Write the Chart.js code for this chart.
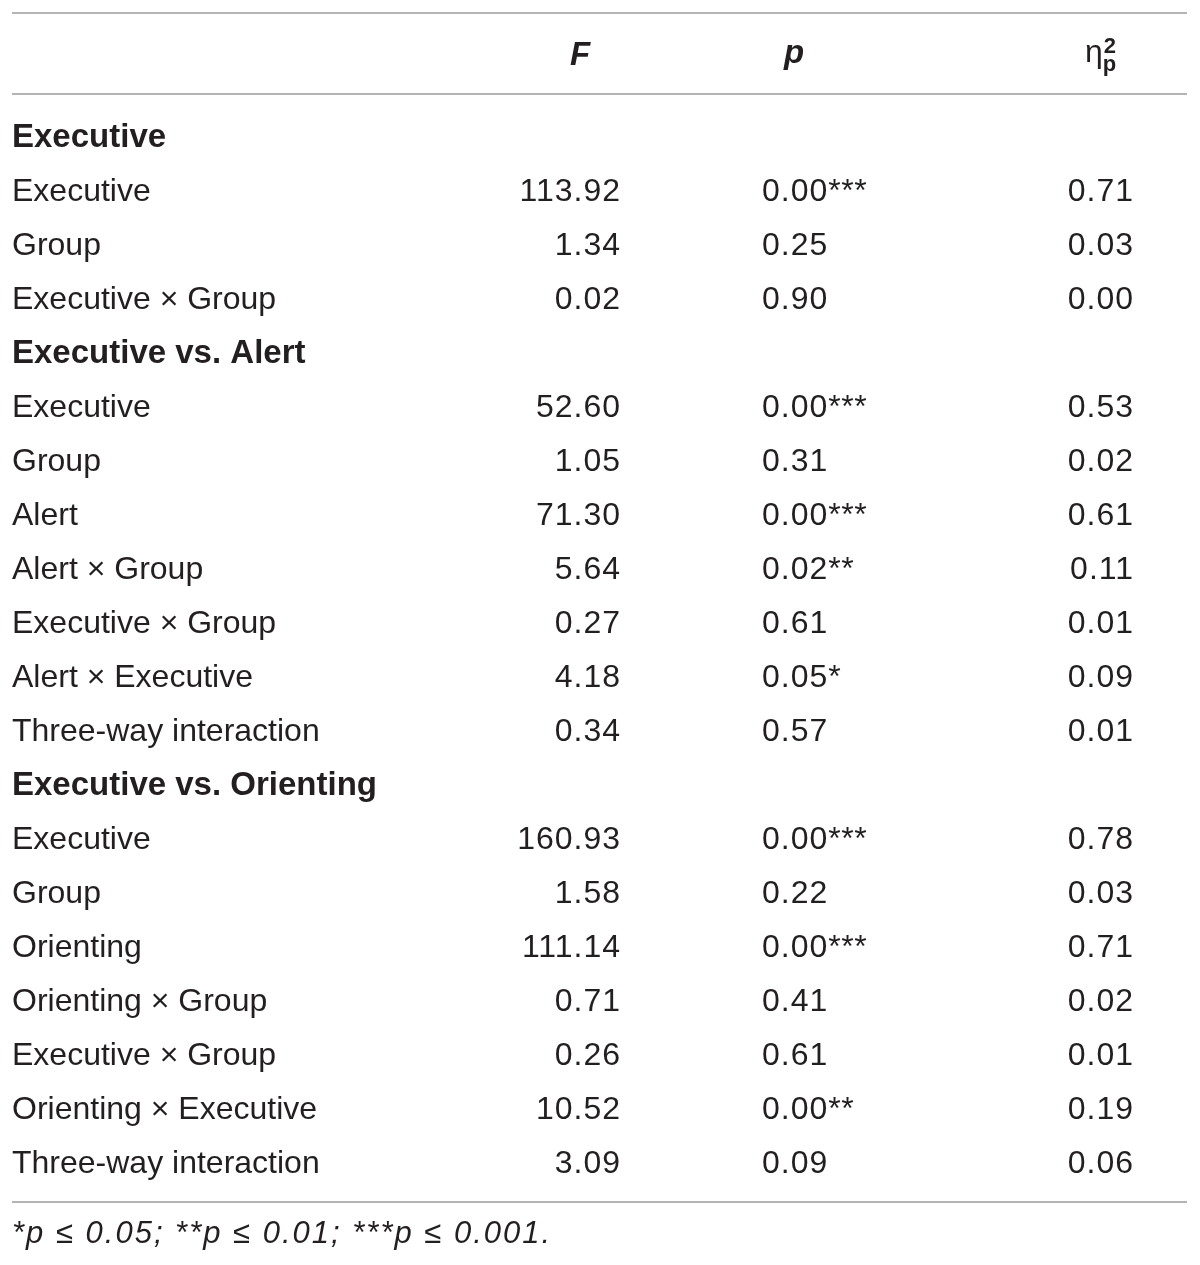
<!DOCTYPE html>
<html>
<head>
<meta charset="utf-8">
<script src="https://cdn.jsdelivr.net/npm/chart.js@4"></script>
<style>
  html, body { margin: 0; padding: 0; background: #ffffff; }
  #wrap { position: relative; width: 1200px; height: 1265px; }
</style>
</head>
<body>
<div id="wrap"><canvas id="c"></canvas></div>
<script>
// ---- data ----
const rowLabels = [
  'Executive', 'Executive', 'Group', 'Executive × Group',
  'Executive vs. Alert', 'Executive', 'Group', 'Alert', 'Alert × Group',
  'Executive × Group', 'Alert × Executive', 'Three-way interaction',
  'Executive vs. Orienting', 'Executive', 'Group', 'Orienting',
  'Orienting × Group', 'Executive × Group', 'Orienting × Executive', 'Three-way interaction'
];
const sectionRow = [true,false,false,false,true,false,false,false,false,false,false,false,true,false,false,false,false,false,false,false];
const fValues = [null,113.92,1.34,0.02,null,52.60,1.05,71.30,5.64,0.27,4.18,0.34,null,160.93,1.58,111.14,0.71,0.26,10.52,3.09];
const pValues = [null,0.00,0.25,0.90,null,0.00,0.31,0.00,0.02,0.61,0.05,0.57,null,0.00,0.22,0.00,0.41,0.61,0.00,0.09];
const pStars  = ['','***','','','','***','','***','**','','*','','','***','','***','','','**',''];
const etaValues = [null,0.71,0.03,0.00,null,0.53,0.02,0.61,0.11,0.01,0.09,0.01,null,0.78,0.03,0.71,0.02,0.01,0.19,0.06];
const columnHeaders = ['F', 'p', 'η'];
const footnote = '*p ≤ 0.05; **p ≤ 0.01; ***p ≤ 0.001.';

// ---- layout (styles, not data) ----
const COL = { label: 12, f: 620, p: 762, eta: 1133 };
const HEAD_X = { f: 580, p: 794, eta: 1085 };
const HEADER_ROW = -1.54;
const FOOT_ROW = 20.3;
const RULES = [-2.49, -0.99, 19.54];
const RULE_X = [12, 1187];
const TEXT = '#231f20';
const FONT = '"Liberation Sans", Arial, Helvetica, sans-serif';

function cellData(values, x) {
  const out = [];
  values.forEach((v, i) => { if (v !== null && v !== undefined) out.push({ x: x, y: i, v: v, i: i }); });
  return out;
}

const datasets = [
  { id: 'label', data: rowLabels.map((t, i) => ({ x: COL.label, y: i, i: i })), align: 'left' },
  { id: 'f', data: cellData(fValues, COL.f), align: 'right' },
  { id: 'p', data: cellData(pValues, COL.p), align: 'left' },
  { id: 'eta', data: cellData(etaValues, COL.eta), align: 'right' }
].map(d => Object.assign(d, { pointRadius: 0, pointHoverRadius: 0, showLine: false }));

const tablePlugin = {
  id: 'tableText',
  afterDatasetsDraw(chart) {
    const ctx = chart.ctx;
    const xs = chart.scales.x, ys = chart.scales.y;
    ctx.save();
    // rules
    ctx.strokeStyle = '#b4b4b4';
    ctx.lineWidth = 2;
    RULES.forEach(r => {
      const y = Math.round(ys.getPixelForValue(r));
      ctx.beginPath();
      ctx.moveTo(xs.getPixelForValue(RULE_X[0]), y);
      ctx.lineTo(xs.getPixelForValue(RULE_X[1]), y);
      ctx.stroke();
    });
    ctx.fillStyle = TEXT;
    ctx.textBaseline = 'alphabetic';
    // header
    const hy = ys.getPixelForValue(HEADER_ROW);
    ctx.font = 'italic bold 33px ' + FONT;
    ctx.textAlign = 'center';
    ctx.fillText(columnHeaders[0], xs.getPixelForValue(HEAD_X.f), hy + 1);
    ctx.fillText(columnHeaders[1], xs.getPixelForValue(HEAD_X.p), hy - 1);
    ctx.textAlign = 'left';
    ctx.font = '32px ' + FONT;
    const ex = xs.getPixelForValue(HEAD_X.eta);
    ctx.fillText(columnHeaders[2], ex, hy - 2);
    const ew = ctx.measureText(columnHeaders[2]).width;
    ctx.font = 'bold 22px ' + FONT;
    ctx.fillText('2', ex + ew + 1, hy - 11);
    ctx.fillText('p', ex + ew + 0, hy + 7);
    // cells
    chart.data.datasets.forEach((ds, di) => {
      const meta = chart.getDatasetMeta(di);
      meta.data.forEach((el, k) => {
        const pt = ds.data[k];
        const x = el.x, y = el.y;
        ctx.textAlign = ds.align;
        if (ds.id === 'label') {
          ctx.letterSpacing = '0px';
          ctx.font = (sectionRow[pt.i] ? 'bold 33px ' : '32px ') + FONT;
          ctx.fillText(rowLabels[pt.i], x, y);
        } else if (ds.id === 'p') {
          ctx.letterSpacing = '1px';
          ctx.font = '32px ' + FONT;
          const s = pt.v.toFixed(2);
          ctx.fillText(s, x, y);
          const w = ctx.measureText(s).width;
          ctx.letterSpacing = '0.5px';
          ctx.fillText(pStars[pt.i], x + w, y);
        } else {
          ctx.letterSpacing = '1px';
          ctx.font = '32px ' + FONT;
          ctx.fillText(pt.v.toFixed(2), x + 1, y);
        }
      });
    });
    // footnote
    ctx.textAlign = 'left';
    ctx.letterSpacing = '2px';
    ctx.font = 'italic 31px ' + FONT;
    ctx.fillText(footnote, xs.getPixelForValue(COL.label), ys.getPixelForValue(FOOT_ROW));
    ctx.letterSpacing = '0px';
    ctx.restore();
  }
};

new Chart(document.getElementById('c'), {
  type: 'scatter',
  data: { datasets: datasets },
  options: {
    responsive: true,
    maintainAspectRatio: false,
    animation: false,
    events: [],
    layout: { padding: 0 },
    plugins: { legend: { display: false }, tooltip: { enabled: false } },
    scales: {
      x: { type: 'linear', display: false, min: 0, max: 1200 },
      y: { type: 'linear', display: false, reverse: true, min: -147 / 54, max: (1265 - 147) / 54 }
    }
  },
  plugins: [tablePlugin]
});
</script>
</body>
</html>
